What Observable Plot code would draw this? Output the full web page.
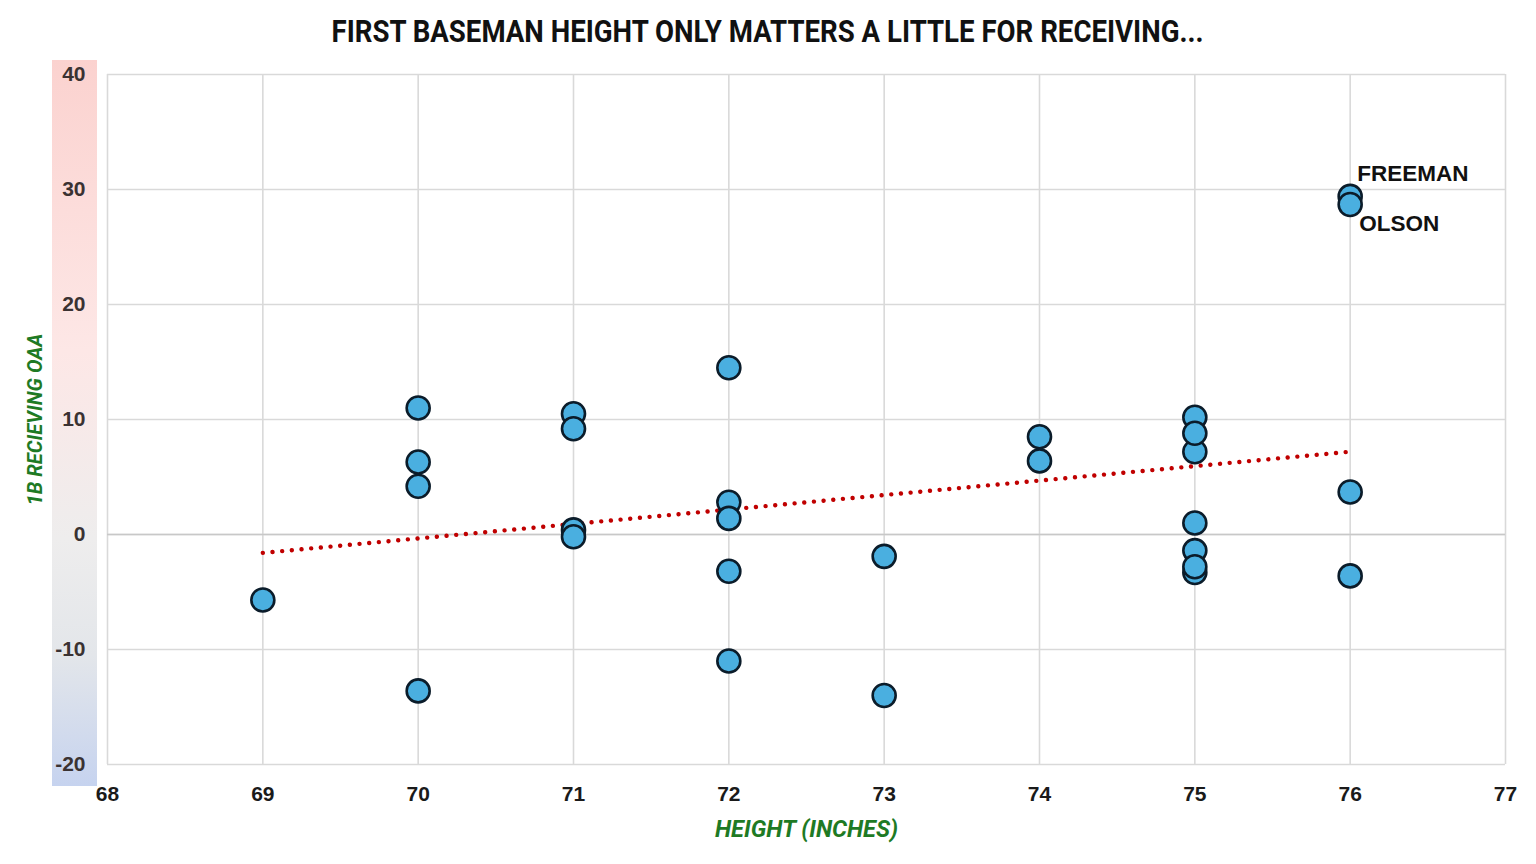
<!DOCTYPE html>
<html>
<head>
<meta charset="utf-8">
<script src="https://cdn.jsdelivr.net/npm/d3@7"></script>
<script src="https://cdn.jsdelivr.net/npm/@observablehq/plot@0.6"></script>
<style>
  html, body { margin: 0; padding: 0; background: #fff; }
  #title {
    width: 1536px; height: 60px; line-height: 64px; text-align: center; white-space: nowrap;
  }
  #title span {
    display: inline-block; transform-origin: center center;
    font-family: Roboto, "DejaVu Sans", sans-serif; font-weight: bold; font-size: 31px; color: #111;
  }
</style>
</head>
<body>
<div id="title"><span>FIRST BASEMAN HEIGHT ONLY MATTERS A LITTLE FOR RECEIVING...</span></div>
<div id="chart"></div>
<script>
// Player heights (inches) and 1B receiving OAA
const heights = [69, 70, 70, 70, 70, 71, 71, 71, 71, 72, 72, 72, 72, 72, 73, 73, 74, 74, 75, 75, 75, 75, 75, 75, 75, 76, 76, 76, 76];
const oaa     = [-5.7, 11.0, 6.3, 4.2, -13.6, 10.5, 9.2, 0.4, -0.2, 14.5, 2.8, 1.4, -3.2, -11.0, -1.9, -14.0, 8.5, 6.4, 10.2, 7.2, 8.8, 1.0, -1.4, -3.3, -2.8, 29.4, 28.7, 3.7, -3.6];

// Labelled players
const labelNames = ["FREEMAN", "OLSON"];
const labelX = [76, 76];
const labelY = [29.4, 28.7];

// Trend line end points (as drawn)
const trendX = [69, 76];
const trendY = [-1.6, 7.2];

// Tick values
const xTicks = [68, 69, 70, 71, 72, 73, 74, 75, 76, 77];
const yTicks = [-20, -10, 0, 10, 20, 30, 40];

const xTitle = "HEIGHT (INCHES)";
const yTitle = "1B RECIEVING OAA";

const points = heights.map((h, i) => ({h, v: oaa[i]}));
const labels = labelNames.map((n, i) => ({n, x: labelX[i], y: labelY[i]}));
const trend = trendX.map((x, i) => ({x, y: trendY[i]}));

const axisFont = "'Liberation Sans', Arial, sans-serif";
const titleFont = "Roboto, 'DejaVu Sans', sans-serif";

// gradient strip behind y tick labels
function gradientStrip(index, scales, values, dims) {
  const g = d3.create("svg:g");
  const defs = g.append("defs");
  const lg = defs.append("linearGradient").attr("id", "ygrad").attr("x1", 0).attr("x2", 0).attr("y1", 0).attr("y2", 1);
  [["0%", "#fbd2cf"], ["40%", "#fde7e6"], ["66%", "#eeeded"], ["82%", "#e3e6ea"], ["100%", "#c6d3ef"]]
    .forEach(([o, c]) => lg.append("stop").attr("offset", o).attr("stop-color", c));
  const top = 0;
  const bottom = scales.y(-20) + 22;
  g.append("rect")
    .attr("x", dims.marginLeft - 55).attr("width", 45)
    .attr("y", top).attr("height", bottom - top)
    .attr("fill", "url(#ygrad)");
  return g.node();
}

const plot = Plot.plot({
  width: 1536,
  height: 804,
  marginTop: 14,
  marginBottom: 100,
  marginLeft: 107,
  marginRight: 31,
  style: {background: "transparent", overflow: "visible"},
  x: {domain: [68, 77]},
  y: {domain: [-20, 40]},
  marks: [
    gradientStrip,
    Plot.gridX(xTicks, {stroke: "#d9d9d9", strokeOpacity: 1, strokeWidth: 1.6}),
    Plot.gridY(yTicks, {stroke: "#d9d9d9", strokeOpacity: 1, strokeWidth: 1.6}),
    Plot.ruleY([0], {stroke: "#c8c8c8", strokeWidth: 1.6}),
    Plot.axisX(xTicks, {tickSize: 0, tickPadding: 22, fontSize: 21, fontWeight: "bold", fill: "#1a1a1a",
      fontFamily: axisFont, label: null, tickFormat: d => String(d)}),
    Plot.axisY(yTicks, {tickSize: 0, tickPadding: 22, fontSize: 21, fontWeight: "bold", fill: "#3a3232",
      fontFamily: axisFont, label: null, tickFormat: d => String(d)}),
    Plot.line(trend, {x: "x", y: "y", stroke: "#c00000", strokeWidth: 4.4,
      strokeDasharray: "0.01,9.7", strokeLinecap: "round"}),
    Plot.dot(points, {x: "h", y: "v", r: 11.5, fill: "#4aafe0", stroke: "#0b1c2a", strokeWidth: 2.6, fillOpacity: 1}),
    Plot.text(labels.slice(0, 1), {x: "x", y: "y", text: "n", textAnchor: "start", dx: 7, dy: -23,
      fontSize: 22.5, fontWeight: "bold", fill: "#111", fontFamily: axisFont}),
    Plot.text(labels.slice(1), {x: "x", y: "y", text: "n", textAnchor: "start", dx: 9, dy: 19,
      fontSize: 22.5, fontWeight: "bold", fill: "#111", fontFamily: axisFont}),
    Plot.text([xTitle], {frameAnchor: "bottom", dy: 65, lineAnchor: "middle", textAnchor: "middle", text: d => d,
      fontSize: 24, fontWeight: "bold", fontStyle: "italic", fill: "#1e7a24", fontFamily: titleFont,
      className: "xtitle"}),
    Plot.text([yTitle], {frameAnchor: "left", dx: -72, rotate: -90, lineAnchor: "middle", textAnchor: "middle", text: d => d,
      fontSize: 21, fontWeight: "bold", fontStyle: "italic", fill: "#1e7a24", fontFamily: titleFont,
      className: "ytitle"})
  ]
});
document.getElementById("chart").appendChild(plot);

// condense axis titles to the reference widths
d3.select(plot).selectAll(".xtitle text").attr("textLength", 183).attr("lengthAdjust", "spacingAndGlyphs");
d3.select(plot).selectAll(".ytitle text").attr("textLength", 172).attr("lengthAdjust", "spacingAndGlyphs");

// condense the title to the reference width
const span = document.querySelector("#title span");
const w = span.getBoundingClientRect().width;
span.style.transform = `scaleX(${872 / w})`;
</script>
</body>
</html>
